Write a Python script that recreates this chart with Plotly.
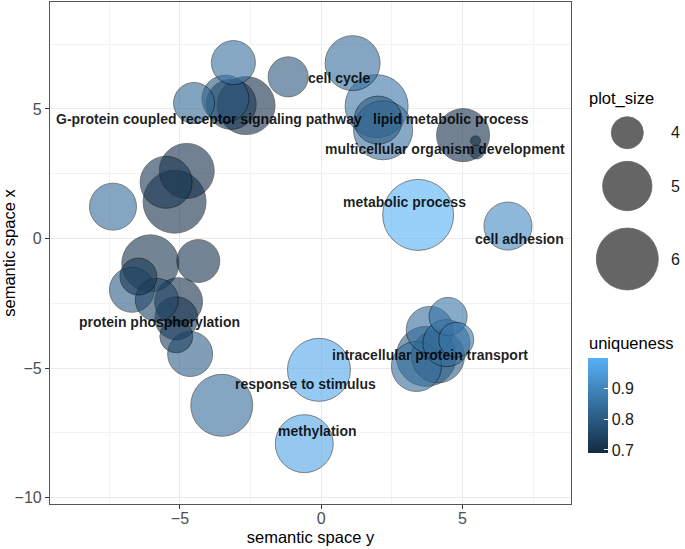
import numpy as np
import plotly.graph_objects as go

# ---------------- data ----------------
# x-axis: "semantic space y", y-axis: "semantic space x"
sem_y = [-3.11, -1.17, 1.11, -4.50, -3.39, -3.19, -2.66,
         -7.37, -5.49, -4.76, -5.19, -4.35, -6.05, -6.70, -6.47, -5.82, -5.05, -5.13, -5.13, -4.64,
         1.96, 2.19, 2.01, 5.02, 5.46, 5.51,
         3.43, 6.61, -0.08, -0.60, -3.52,
         4.49, 3.84, 4.43, 4.78, 3.72, 3.37, 4.13]
sem_x = [6.79, 6.24, 6.77, 5.23, 5.40, 5.18, 5.13,
         1.23, 2.17, 2.61, 1.42, -0.87, -0.96, -1.98, -1.47, -2.37, -2.44, -3.08, -3.78, -4.46,
         5.11, 4.18, 4.57, 3.99, 3.77, 3.34,
         0.91, 0.48, -5.07, -7.92, -6.44,
         -3.01, -3.53, -4.04, -3.91, -4.55, -4.94, -4.55]
plot_size = [4.65, 4.41, 5.42, 4.47, 4.84, 5.05, 5.66,
             4.84, 5.19, 5.42, 6.09, 4.58, 5.58, 4.71, 4.24, 4.58, 4.91, 4.58, 4.04, 4.71,
             6.09, 5.75, 4.91, 5.27, 3.34, 3.41,
             6.85, 4.91, 6.09, 5.66, 6.00,
             4.30, 4.84, 4.84, 4.14, 5.83, 5.05, 5.27]
uniqueness = [0.85, 0.79, 0.84, 0.83, 0.79, 0.72, 0.70,
              0.84, 0.72, 0.70, 0.70, 0.71, 0.71, 0.80, 0.72, 0.75, 0.70, 0.72, 0.74, 0.81,
              0.86, 0.85, 0.80, 0.70, 0.70, 0.72,
              1.00, 0.91, 0.98, 0.97, 0.84,
              0.86, 0.84, 0.84, 0.86, 0.81, 0.84, 0.80]

label_text = ["G-protein coupled receptor signaling pathway", "cell cycle",
              "lipid metabolic process", "multicellular organism development",
              "metabolic process", "cell adhesion", "protein phosphorylation",
              "intracellular protein transport", "response to stimulus", "methylation"]
label_sem_y = [-3.99, 0.63, 4.58, 4.37, 2.94, 7.03, -5.71, 3.85, -0.57, -0.12]
label_sem_x = [4.61, 6.18, 4.63, 3.44, 1.39, -0.03, -3.21, -4.49, -5.62, -7.44]

size_breaks = [4, 5, 6]
uniq_ticks = [0.7, 0.8, 0.9]
uniq_limits = [0.69, 1.0]

# ---------------- styling / scales ----------------
FONT = "Liberation Sans, Arial, sans-serif"
LOW, HIGH = "#132B43", "#56B1F7"


def size_px(v):
    v = np.asarray(v, dtype=float)
    return 37.5 * np.sqrt(np.clip(v - 3.27, 0, None))


order = np.argsort(-np.asarray(plot_size))
bx = np.asarray(sem_y)[order]
by = np.asarray(sem_x)[order]
bs = np.asarray(plot_size)[order]
bu = np.asarray(uniqueness)[order]

fig = go.Figure()

fig.add_trace(go.Scatter(
    x=bx, y=by, mode="markers",
    marker=dict(
        size=size_px(bs), sizemode="diameter",
        color=bu, cmin=uniq_limits[0], cmax=uniq_limits[1],
        colorscale=[[0, LOW], [1, HIGH]],
        opacity=0.6,
        line=dict(color="black", width=0.8),
        colorbar=dict(
            x=(588 - 50) / 635, xanchor="left", xpad=0, ypad=0,
            y=(504 - 405.5) / 502, yanchor="middle",
            len=95, lenmode="pixels", thickness=20, thicknessmode="pixels",
            tickvals=uniq_ticks, ticktext=[str(t) for t in uniq_ticks],
            ticks="inside", tickcolor="white", ticklen=4,
            outlinewidth=0, tickfont=dict(family=FONT, size=16, color="#1A1A1A"),
        ),
    ),
    hoverinfo="skip", showlegend=False, xaxis="x", yaxis="y",
))

# labels
for t, lx, ly in zip(label_text, label_sem_y, label_sem_x):
    fig.add_annotation(x=lx, y=ly, xref="x", yref="y", text="<b>" + t + "</b>",
                       showarrow=False, xanchor="center", yanchor="middle",
                       font=dict(family=FONT, size=14, color="rgba(0,0,0,0.88)"))

# size legend on auxiliary axes (coordinates = pixels)
leg_y = [132.7, 186, 259]
fig.add_trace(go.Scatter(
    x=[627.3] * len(size_breaks), y=leg_y, mode="markers",
    marker=dict(size=size_px(size_breaks), sizemode="diameter", color="black",
                opacity=0.6, line=dict(color="black", width=0.8)),
    xaxis="x2", yaxis="y2", hoverinfo="skip", showlegend=False, cliponaxis=False,
))
for b, yy in zip(size_breaks, leg_y):
    fig.add_annotation(x=669, y=yy, xref="x2", yref="y2", text=str(b), showarrow=False,
                       xanchor="left", yanchor="middle",
                       font=dict(family=FONT, size=16, color="#1A1A1A"))
fig.add_annotation(x=587, y=98, xref="x2", yref="y2", text="plot_size", showarrow=False,
                   xanchor="left", yanchor="middle", font=dict(family=FONT, size=16.5, color="black"))
fig.add_annotation(x=587, y=343, xref="x2", yref="y2", text="uniqueness", showarrow=False,
                   xanchor="left", yanchor="middle", font=dict(family=FONT, size=16.5, color="black"))

axis_common = dict(
    showgrid=True, gridcolor="#EBEBEB", gridwidth=1.1, zeroline=False,
    showline=True, linecolor="#555555", linewidth=1.2, mirror=True,
    ticks="outside", ticklen=4, tickcolor="#333333", tickwidth=1,
    tickfont=dict(family=FONT, size=16, color="#4D4D4D"),
    dtick=5, tick0=0,
    minor=dict(showgrid=True, gridcolor="#F2F2F2", gridwidth=0.6, dtick=2.5, tick0=0),
)

fig.update_layout(
    width=685, height=549,
    margin=dict(l=50, r=0, t=2, b=45),
    paper_bgcolor="white", plot_bgcolor="white",
    xaxis=dict(domain=[0, 521 / 635], range=[-9.6, 8.84], ticklabelstandoff=-4,
               title=dict(text="semantic space y", standoff=5,
                          font=dict(family=FONT, size=16.5, color="black")),
               **axis_common),
    yaxis=dict(range=[-10.25, 9.13],
               title=dict(text="semantic space x", standoff=1,
                          font=dict(family=FONT, size=16.5, color="black")),
               **axis_common),
    xaxis2=dict(domain=[521 / 635, 1], range=[571, 685], visible=False, anchor="y2"),
    yaxis2=dict(domain=[0, 1], range=[504, 2], visible=False, anchor="x2"),
)

fig.write_html("out.html", config={"displayModeBar": False},
               post_script="document.body.style.margin='0px';document.body.style.padding='0px';")
